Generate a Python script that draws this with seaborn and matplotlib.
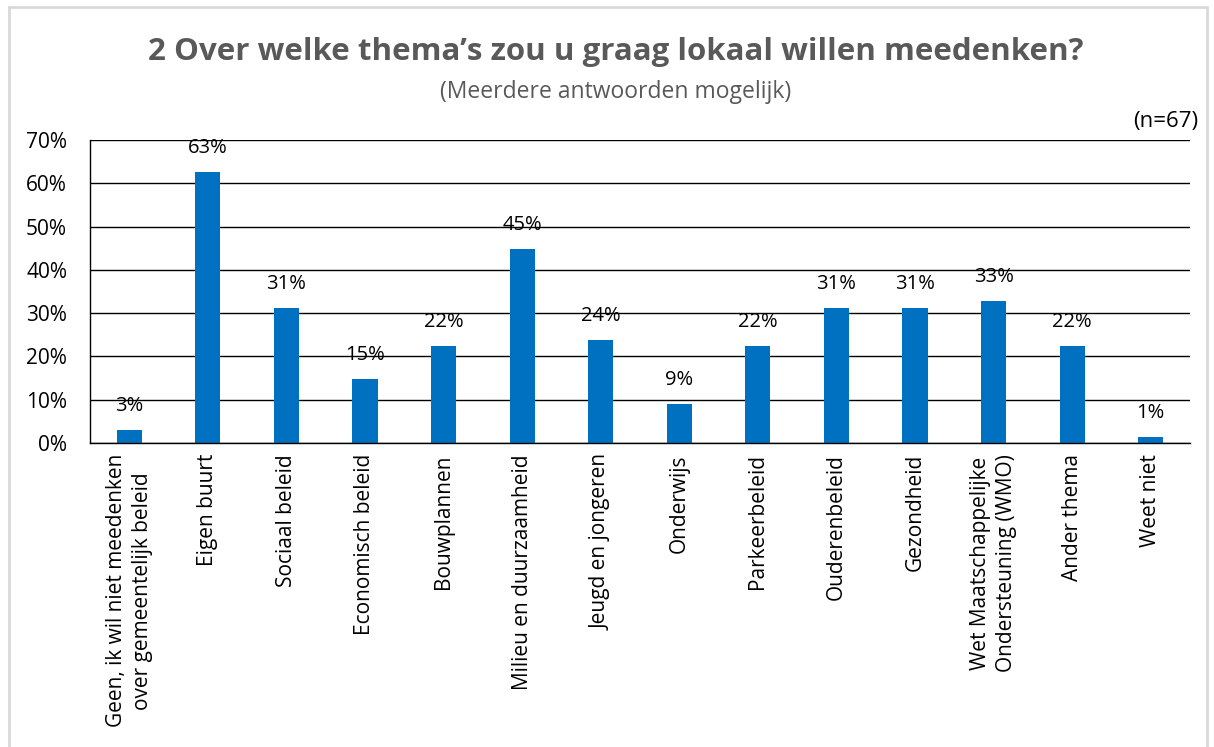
import matplotlib
matplotlib.use("Agg")
import matplotlib.pyplot as plt
import seaborn as sns
import pandas as pd
from matplotlib.patches import Rectangle
from matplotlib.ticker import PercentFormatter

categories = [
    "Geen, ik wil niet meedenken\nover gemeentelijk beleid",
    "Eigen buurt",
    "Sociaal beleid",
    "Economisch beleid",
    "Bouwplannen",
    "Milieu en duurzaamheid",
    "Jeugd en jongeren",
    "Onderwijs",
    "Parkeerbeleid",
    "Ouderenbeleid",
    "Gezondheid",
    "Wet Maatschappelijke\nOndersteuning (WMO)",
    "Ander thema",
    "Weet niet",
]
values = [3.0, 62.7, 31.3, 14.9, 22.4, 44.8, 23.9, 9.0, 22.4, 31.3, 31.3, 32.8, 22.4, 1.4]
yticks = [0, 10, 20, 30, 40, 50, 60, 70]

sns.set_theme(style="white")
plt.rcParams['font.family'] = ['Open Sans', 'DejaVu Sans']

df = pd.DataFrame({"cat": categories, "val": values})

fig = plt.figure(figsize=(12.14, 7.47), dpi=100)
ax = fig.add_axes([90/1214, 1-443/747, 1100/1214, 303/747])

sns.barplot(data=df, x="cat", y="val", color="#0070C0", width=0.32, ax=ax,
            saturation=1, edgecolor="none")

ax.set_ylim(0, 70)
ax.set_yticks(yticks)
ax.yaxis.set_major_formatter(PercentFormatter(decimals=0))
ax.grid(axis="y", color="#000000", linewidth=1)
ax.set_axisbelow(True)
for s in ["top", "right"]:
    ax.spines[s].set_visible(False)
for s in ["left", "bottom"]:
    ax.spines[s].set_color("#000000")
    ax.spines[s].set_linewidth(1)
ax.set_xlabel("")
ax.set_ylabel("")
ax.tick_params(axis="y", labelsize=15, colors="#000000", length=0, pad=16.5)
ax.tick_params(axis="x", labelsize=15, colors="#000000", length=0, pad=8)
ax.set_xticks(range(len(categories)))
ax.set_xticklabels(categories, rotation=90, ha="center", va="top", multialignment="center",
                   linespacing=1.3)
ax.set_xlim(-0.5, len(categories) - 0.5)

for c in ax.containers:
    ax.bar_label(c, labels=[f"{v:.0f}%" for v in values], padding=10, fontsize=14.5, color="#000000")

fig.text(0.507, 1-52/747, "2 Over welke thema\u2019s zou u graag lokaal willen meedenken?",
         ha="center", va="center", fontsize=22.5, fontweight="bold", color="#595959")
fig.text(0.507, 1-92/747, "(Meerdere antwoorden mogelijk)", ha="center", va="center",
         fontsize=16.5, color="#595959")
fig.text(1198/1214, 1-122/747, "(n=67)", ha="right", va="center", fontsize=16, color="#000000")

fig.patches.append(Rectangle((9/1214, -0.01), 1198/1214, 1 - 7/747 + 0.01, transform=fig.transFigure,
                             fill=False, edgecolor="#D9D9D9", linewidth=2))

fig.savefig("out.png", dpi=100)
